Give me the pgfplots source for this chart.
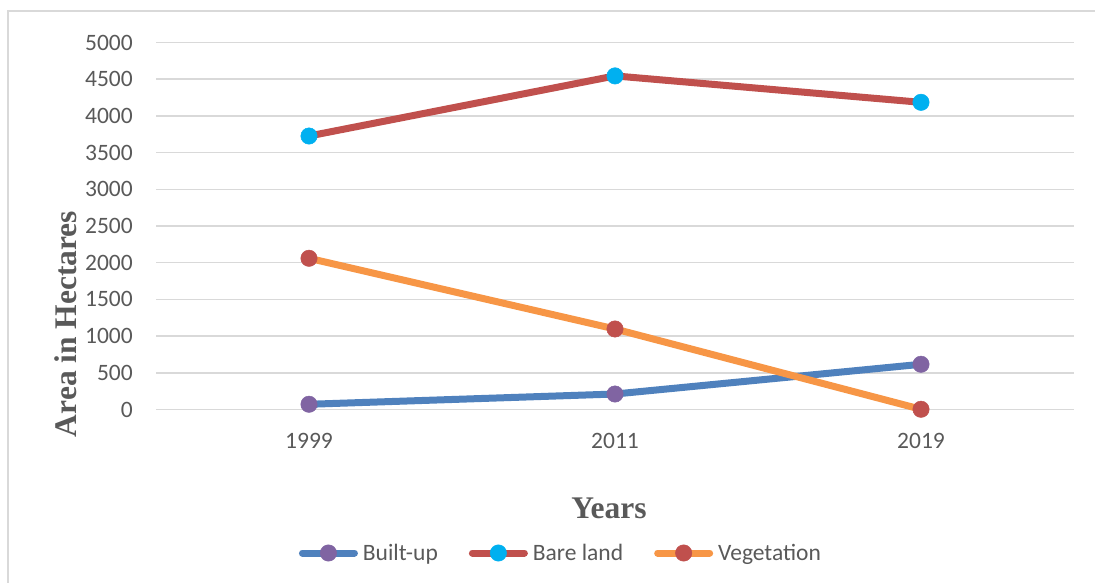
\documentclass[border=0pt]{standalone}
\usepackage{pgfplots}
\pgfplotsset{compat=1.18}
\usepackage{fontspec}
\setmainfont{Carlito}
\newfontfamily\titlefont{Liberation Serif}
\definecolor{txt}{HTML}{595959}
\definecolor{gridc}{HTML}{D9D9D9}
\definecolor{framec}{HTML}{D9D9D9}
\definecolor{bu}{HTML}{4F81BD}
\definecolor{pu}{HTML}{8064A2}
\definecolor{rd}{HTML}{C0504D}
\definecolor{cy}{HTML}{00B0F0}
\definecolor{og}{HTML}{F79646}
\begin{document}
\begin{tikzpicture}
\path[use as bounding box] (0pt,0pt) rectangle (1095pt,582pt);
\draw[color=framec, line width=1.3pt] (8pt,-10pt) -- (8pt,571pt) -- (1110pt,571pt);
\begin{axis}[
  at={(156pt,172.5pt)}, anchor=south west,
  scale only axis, width=918pt, height=367pt,
  xmin=-0.5, xmax=2.5, ymin=0, ymax=5000,
  clip=false,
  xtick={0,1,2}, xticklabels={1999,2011,2019},
  ytick={0,500,...,5000},
  ymajorgrids, grid style={color=gridc, line width=1.5pt},
  axis line style={draw=none},
  major tick length=0pt,
  /pgf/number format/assume math mode=true,
  /pgf/number format/set thousands separator={},
  tick label style={font=\fontsize{23.5}{28}\selectfont, color=txt, inner sep=0pt},
  yticklabel style={anchor=east, xshift=-23pt},
  xticklabel style={anchor=north, yshift=-23.5pt},
  xlabel={Years},
  xlabel style={font=\titlefont\bfseries\fontsize{31.5}{36}\selectfont, color=txt, at={(axis description cs:0.4935,-0.268)}, anchor=center, inner sep=0pt},
  ylabel={Area in Hectares},
  ylabel style={font=\titlefont\bfseries\fontsize{31.5}{36}\selectfont, color=txt, at={(axis description cs:-0.098,0.233)}, anchor=center, inner sep=0pt},
  legend image code/.code={
    \draw[#1, mark=none] (0pt,0pt) -- (52pt,0pt);
    \draw[#1] plot coordinates {(26pt,0pt)};
  },
  legend style={draw=none, fill=none, at={(axis description cs:0.44,-0.391)}, anchor=center,
    legend columns=3, font=\fontsize{23.5}{28}\selectfont, text=txt,
    inner sep=0pt, outer sep=0pt,
    nodes={inner sep=0pt},
    /tikz/every odd column/.append style={column sep=5pt},
    /tikz/every even column/.append style={column sep=31pt}},
  every axis plot/.append style={line width=7pt, line cap=round, line join=round, mark=*, mark size=8.2pt}
]
\addplot[color=bu, mark options={line width=0.5pt, draw=pu, fill=pu}] coordinates {(0,71) (1,211) (2,616)};
\addlegendentry{Built-up}
\addplot[color=rd, mark options={line width=0.5pt, draw=cy, fill=cy}] coordinates {(0,3726) (1,4545) (2,4185)};
\addlegendentry{Bare land}
\addplot[color=og, mark options={line width=0.5pt, draw=rd, fill=rd}] coordinates {(0,2060) (1,1097) (2,3)};
\addlegendentry{Vegetation}
\end{axis}
\end{tikzpicture}
\end{document}
